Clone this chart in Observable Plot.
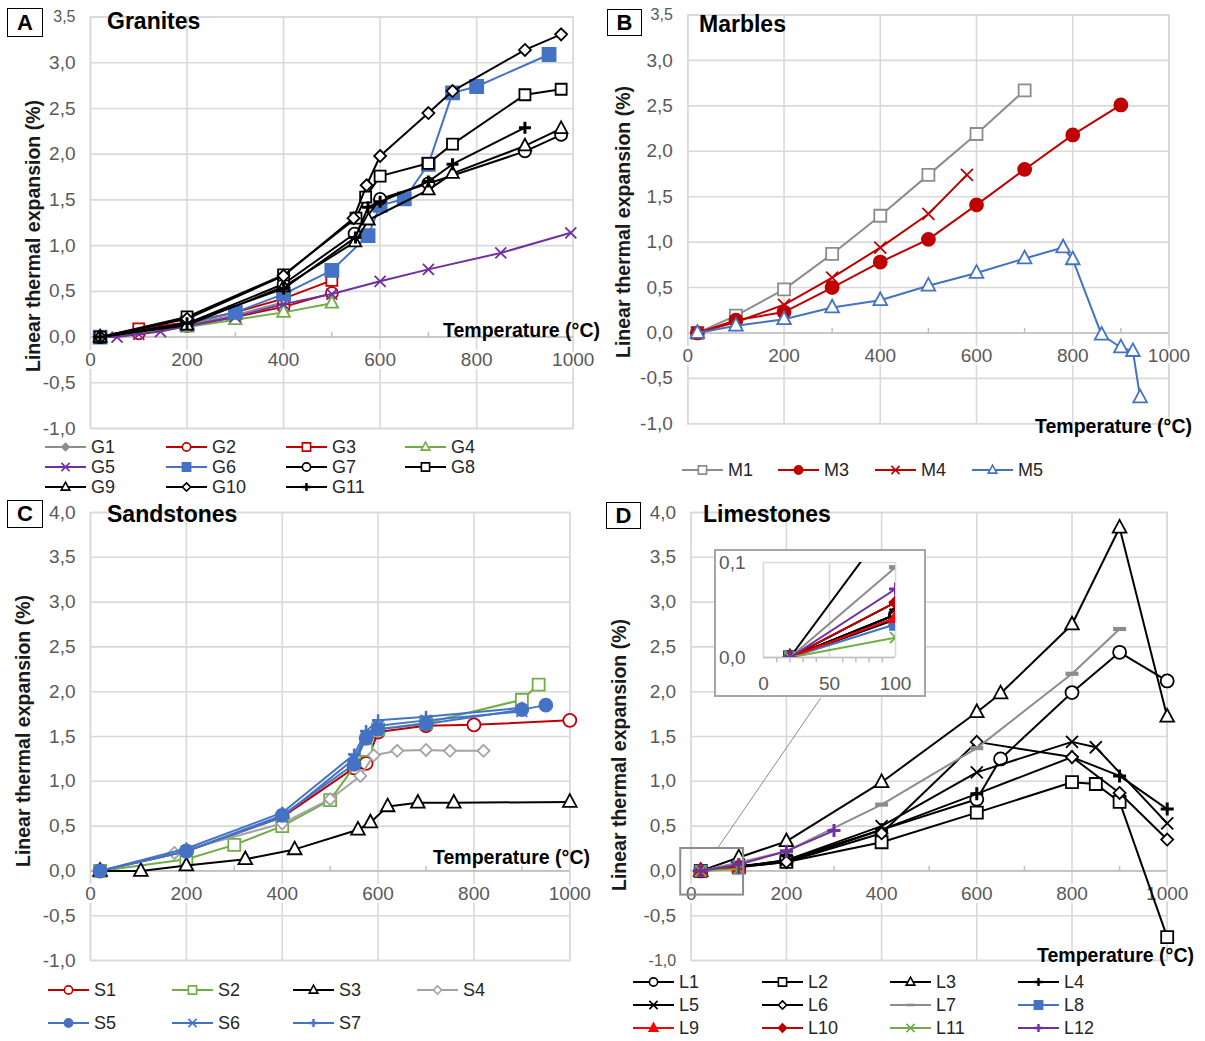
<!DOCTYPE html>
<html>
<head>
<meta charset="utf-8">
<script src="https://cdn.jsdelivr.net/npm/d3@7"></script>
<script src="https://cdn.jsdelivr.net/npm/@observablehq/plot@0.6"></script>
<style>
  html, body { margin: 0; padding: 0; background: #fff; }
  #figure { position: relative; width: 1205px; height: 1041px; overflow: hidden;
            font-family: "Liberation Sans", Arial, sans-serif; color: #000; }
  #figure > * { position: absolute; }
  .tag { border: 1.6px solid #000; box-sizing: border-box; font-weight: bold; font-size: 22px;
         display: flex; align-items: center; justify-content: center; background: #fff; }
  .title { font-weight: bold; font-size: 23px; white-space: nowrap; line-height: 1; transform: translateY(-50%); }
  .ytitle { font-weight: bold; font-size: 19.5px; white-space: nowrap; line-height: 1; color: #1a1a1a;
            transform: translate(-50%, -50%) rotate(-90deg); }
  .xtitle { font-weight: bold; font-size: 19.5px; white-space: nowrap; line-height: 1; transform: translateY(-50%); }
  .item { display: flex; align-items: center; font-size: 18px; color: #262626; white-space: nowrap;
          line-height: 1; transform: translateY(-50%); }
  .item svg { margin-right: 5px; overflow: visible; }
  .insetbox { border: 2px solid #a6a6a6; box-sizing: border-box; background: #fff; }
</style>
</head>
<body>
<div id="figure"></div>
<script>
// ---------------------------------------------------------------------------
// Temperature axis (°C)
const xTicks = [0, 200, 400, 600, 800, 1000];
const xMinor = [100, 300, 500, 700, 900];
const yTicksAB = [-1, -0.5, 0, 0.5, 1, 1.5, 2, 2.5, 3, 3.5];
const yTicksCD = [-1, -0.5, 0, 0.5, 1, 1.5, 2, 2.5, 3, 3.5, 4];

// ---------------------------------------------------------------------------
// A — Granites: [temperature °C, linear thermal expansion %]
const graniteIds = ["G1", "G2", "G3", "G4", "G5", "G6", "G7", "G8", "G9", "G10", "G11"];
const G1 = [[20, 0], [200, 0.14], [300, 0.24], [400, 0.38]];
const G2 = [[20, 0], [100, 0.04], [200, 0.12], [300, 0.22], [400, 0.33], [500, 0.48]];
const G3 = [[20, 0], [100, 0.09], [200, 0.16], [300, 0.27], [400, 0.42], [500, 0.62]];
const G4 = [[20, 0], [200, 0.11], [300, 0.19], [400, 0.27], [500, 0.37]];
const G5 = [[20, 0], [55, 0.0], [100, 0.03], [145, 0.06], [200, 0.12], [300, 0.22], [400, 0.36], [500, 0.47], [600, 0.61], [700, 0.74], [850, 0.92], [995, 1.14]];
const G6 = [[20, 0], [200, 0.15], [300, 0.27], [400, 0.47], [500, 0.73], [575, 1.11], [600, 1.44], [650, 1.51], [700, 1.89], [750, 2.67], [800, 2.74], [950, 3.09]];
const G7 = [[20, 0], [200, 0.15], [400, 0.58], [547, 1.13], [600, 1.51], [700, 1.68], [900, 2.03], [975, 2.21]];
const G8 = [[20, 0], [200, 0.22], [400, 0.68], [550, 1.3], [570, 1.53], [600, 1.76], [700, 1.9], [750, 2.11], [900, 2.65], [975, 2.71]];
const G9 = [[20, 0], [200, 0.13], [400, 0.55], [548, 1.04], [576, 1.28], [700, 1.61], [750, 1.79], [900, 2.09], [975, 2.28]];
const G10 = [[20, 0], [200, 0.2], [400, 0.67], [545, 1.3], [572, 1.66], [600, 1.98], [700, 2.45], [750, 2.69], [900, 3.14], [975, 3.31]];
const G11 = [[20, 0], [200, 0.15], [400, 0.53], [549, 1.09], [575, 1.42], [600, 1.48], [700, 1.7], [750, 1.89], [900, 2.29]];

// B — Marbles
const marbleIds = ["M1", "M3", "M4", "M5"];
const M1 = [[20, 0], [100, 0.19], [200, 0.48], [300, 0.87], [400, 1.29], [500, 1.74], [600, 2.19], [700, 2.67]];
const M3 = [[20, 0], [100, 0.14], [200, 0.23], [300, 0.5], [400, 0.78], [500, 1.03], [600, 1.41], [700, 1.8], [800, 2.18], [900, 2.51]];
const M4 = [[20, 0], [100, 0.12], [200, 0.31], [300, 0.61], [400, 0.94], [500, 1.31], [580, 1.74]];
const M5 = [[20, 0], [100, 0.08], [200, 0.15], [300, 0.28], [400, 0.36], [500, 0.52], [600, 0.66], [700, 0.82], [780, 0.94], [800, 0.81], [860, -0.02], [900, -0.16], [925, -0.2], [940, -0.71]];

// C — Sandstones
const sandstoneIds = ["S1", "S2", "S3", "S4", "S5", "S6", "S7"];
const S1 = [[20, 0], [200, 0.22], [400, 0.6], [550, 1.15], [575, 1.2], [600, 1.55], [700, 1.62], [800, 1.63], [1000, 1.68]];
const S2 = [[20, 0], [200, 0.13], [300, 0.29], [400, 0.5], [500, 0.79], [575, 1.35], [600, 1.58], [700, 1.65], [900, 1.91], [935, 2.08]];
const S3 = [[20, 0], [105, 0], [200, 0.06], [323, 0.13], [426, 0.24], [558, 0.46], [584, 0.54], [620, 0.72], [683, 0.76], [758, 0.76], [1000, 0.77]];
const S4 = [[20, 0], [175, 0.2], [400, 0.53], [500, 0.8], [563, 1.06], [591, 1.29], [640, 1.34], [700, 1.35], [750, 1.34], [820, 1.34]];
const S5 = [[20, 0], [200, 0.22], [400, 0.62], [550, 1.19], [575, 1.48], [600, 1.58], [700, 1.64], [900, 1.8], [950, 1.85]];
const S6 = [[20, 0], [200, 0.22], [400, 0.6], [550, 1.25], [575, 1.5], [600, 1.62], [700, 1.68], [900, 1.78]];
const S7 = [[20, 0], [200, 0.25], [400, 0.65], [550, 1.3], [575, 1.56], [600, 1.68], [700, 1.72], [900, 1.82]];

// D — Limestones
const limestoneIds = ["L1", "L2", "L3", "L4", "L5", "L6", "L7", "L8", "L9", "L10", "L11", "L12"];
const L1 = [[20, 0], [100, 0.045], [200, 0.12], [600, 0.8], [650, 1.25], [800, 1.99], [900, 2.44], [1000, 2.12]];
const L2 = [[20, 0], [100, 0.04], [200, 0.1], [400, 0.32], [600, 0.65], [800, 0.99], [850, 0.97], [900, 0.77], [1000, -0.74]];
const L3 = [[20, 0], [100, 0.15], [200, 0.33], [400, 0.99], [600, 1.77], [650, 1.98], [800, 2.75], [900, 3.83], [1000, 1.72]];
const L4 = [[20, 0], [100, 0.058], [200, 0.1], [400, 0.46], [600, 0.86], [800, 1.27], [900, 1.06], [1000, 0.69]];
const L5 = [[20, 0], [100, 0.045], [200, 0.12], [400, 0.5], [600, 1.1], [800, 1.44], [850, 1.38], [1000, 0.53]];
const L6 = [[20, 0], [100, 0.045], [200, 0.1], [400, 0.42], [600, 1.44], [800, 1.27], [900, 0.87], [1000, 0.35]];
const L7 = [[20, 0], [100, 0.095], [200, 0.22], [400, 0.74], [600, 1.37], [800, 2.2], [900, 2.7]];
const L8 = [[20, 0], [100, 0.035]];
const L9 = [[20, 0], [100, 0.042]];
const L10 = [[20, 0], [100, 0.058]];
const L11 = [[20, 0], [100, 0.021]];
const L12 = [[20, 0], [100, 0.072], [200, 0.22], [300, 0.45]];

// Inset of panel D (0–100 °C, 0–0.1 %) and the region it magnifies
const insetXTicks = [0, 50, 100];
const insetXMinor = [10, 20, 30, 40, 60, 70, 80, 90];
const insetYTicks = [0, 0.1];
const zoomRegion = {x: [-22, 110], y: [-0.27, 0.25]};
const zoomLeader = {x: [55, 272], y: [0.25, 1.93]};

// ---------------------------------------------------------------------------
// Colours and marker styles
const BLACK = "#000000", GRAY = "#8c8c8c", LGRAY = "#a3a3a3", RED = "#c00000", BRED = "#ff0000",
      GREEN = "#70ad47", PURPLE = "#7030a0", BLUE = "#4472c4";
const GRID = "#d9d9d9", AXIS = "#bfbfbf", TICK = "#595959";

const half = s => Math.sqrt(s / Math.PI);
const SYM = {
  circle:   {draw(c, s) { const r = half(s); c.moveTo(r, 0); c.arc(0, 0, r, 0, 2 * Math.PI); c.closePath(); }},
  square:   {draw(c, s) { const r = half(s); c.rect(-r, -r, 2 * r, 2 * r); }},
  triangle: {draw(c, s) { const r = half(s); c.moveTo(0, -1.2 * r); c.lineTo(1.05 * r, 0.75 * r); c.lineTo(-1.05 * r, 0.75 * r); c.closePath(); }},
  diamond:  {draw(c, s) { const r = half(s); c.moveTo(0, -r); c.lineTo(r, 0); c.lineTo(0, r); c.lineTo(-r, 0); c.closePath(); }},
  times:    {draw(c, s) { const r = half(s); c.moveTo(-r, -r); c.lineTo(r, r); c.moveTo(r, -r); c.lineTo(-r, r); }},
  plus:     {draw(c, s) { const r = half(s); c.moveTo(-r, 0); c.lineTo(r, 0); c.moveTo(0, -r); c.lineTo(0, r); }},
  dash:     {draw(c, s) { const r = half(s); c.rect(-r, -0.32 * r, 2 * r, 0.64 * r); }},
  tickUp:   {draw(c, s) { const r = half(s); c.moveTo(0, 0); c.lineTo(0, -r); }},
  tickDown: {draw(c, s) { const r = half(s); c.moveTo(0, 0); c.lineTo(0, r); }}
};

const graniteStyle = {
  G1:  {color: GRAY,   sym: "diamond",  fill: GRAY,    r: 4.5},
  G2:  {color: RED,    sym: "circle",   fill: "white", r: 6},
  G3:  {color: RED,    sym: "square",   fill: "white", r: 5.5},
  G4:  {color: GREEN,  sym: "triangle", fill: "white", r: 6},
  G5:  {color: PURPLE, sym: "times",    fill: "none",  r: 5.5},
  G6:  {color: BLUE,   sym: "square",   fill: BLUE,    r: 6.5},
  G7:  {color: BLACK,  sym: "circle",   fill: "white", r: 6},
  G8:  {color: BLACK,  sym: "square",   fill: "white", r: 5.5},
  G9:  {color: BLACK,  sym: "triangle", fill: "white", r: 6},
  G10: {color: BLACK,  sym: "diamond",  fill: "white", r: 6},
  G11: {color: BLACK,  sym: "plus",     fill: "none",  r: 6, sw: 3}
};
const marbleStyle = {
  M1: {color: GRAY, sym: "square",   fill: "white", r: 6},
  M3: {color: RED,  sym: "circle",   fill: RED,     r: 6.5},
  M4: {color: RED,  sym: "times",    fill: "none",  r: 6},
  M5: {color: BLUE, sym: "triangle", fill: "white", r: 6.5}
};
const sandstoneStyle = {
  S1: {color: RED,   sym: "circle",   fill: "white", r: 6.5},
  S2: {color: GREEN, sym: "square",   fill: "white", r: 6},
  S3: {color: BLACK, sym: "triangle", fill: "white", r: 6.5},
  S4: {color: LGRAY, sym: "diamond",  fill: "white", r: 6},
  S5: {color: BLUE,  sym: "circle",   fill: BLUE,    r: 6.5},
  S6: {color: BLUE,  sym: "times",    fill: "none",  r: 5.5},
  S7: {color: BLUE,  sym: "plus",     fill: "none",  r: 6, sw: 2.5}
};
const limestoneStyle = {
  L1:  {color: BLACK,  sym: "circle",   fill: "white", r: 6.5},
  L2:  {color: BLACK,  sym: "square",   fill: "white", r: 6},
  L3:  {color: BLACK,  sym: "triangle", fill: "white", r: 6.5},
  L4:  {color: BLACK,  sym: "plus",     fill: "none",  r: 6.5, sw: 3},
  L5:  {color: BLACK,  sym: "times",    fill: "none",  r: 6},
  L6:  {color: BLACK,  sym: "diamond",  fill: "white", r: 6},
  L7:  {color: GRAY,   sym: "dash",     fill: GRAY,    r: 6.5, sw: 0},
  L8:  {color: BLUE,   sym: "square",   fill: BLUE,    r: 5.5},
  L9:  {color: BRED,   sym: "triangle", fill: BRED,    r: 6},
  L10: {color: RED,    sym: "diamond",  fill: RED,     r: 6},
  L11: {color: GREEN,  sym: "times",    fill: "none",  r: 5.5},
  L12: {color: PURPLE, sym: "plus",     fill: "none",  r: 6.5, sw: 3}
};

// ---------------------------------------------------------------------------
const fig = document.getElementById("figure");
const fmt = v => (v < 0 ? "-" : "") + Math.abs(v).toFixed(1).replace(".", ",");
const FONT = "Liberation Sans, Arial, sans-serif";

function place(el, left, top) {
  el.style.left = left + "px";
  el.style.top = top + "px";
  fig.appendChild(el);
  return el;
}

function toRows(ids, table) {
  return ids.flatMap(id => table[id].map(([t, v]) => ({id, t, v})));
}

function seriesMarks(ids, rows, style, extra = {}) {
  return ids.flatMap(id => {
    const s = style[id];
    const d = rows.filter(r => r.id === id);
    return [
      Plot.line(d, {x: "t", y: "v", stroke: s.color, strokeWidth: 2, ...extra}),
      Plot.dot(d, {x: "t", y: "v", symbol: SYM[s.sym], r: s.r, fill: s.fill,
                   stroke: s.sw === 0 ? "none" : s.color, strokeWidth: s.sw ?? 1.8, ...extra})
    ];
  });
}

function panel({ids, table, style, yTicks, box, margin, smallTop = false, smallBottom = false, extras = []}) {
  const rows = toRows(ids, table);
  const big = yTicks.filter((t, i) => !(smallTop && i === yTicks.length - 1) && !(smallBottom && i === 0));
  const small = yTicks.filter((t, i) => (smallTop && i === yTicks.length - 1) || (smallBottom && i === 0));
  const svg = Plot.plot({
    width: box.w, height: box.h,
    marginTop: margin.top, marginRight: margin.right, marginBottom: margin.bottom, marginLeft: margin.left,
    style: {fontFamily: FONT, background: "transparent", overflow: "visible"},
    x: {domain: [0, 1000], axis: null},
    y: {domain: [yTicks[0], yTicks[yTicks.length - 1]], axis: null},
    marks: [
      Plot.ruleY(yTicks, {stroke: GRID, strokeWidth: 1.6}),
      Plot.ruleX(xTicks, {stroke: GRID, strokeWidth: 1.6}),
      Plot.frame({stroke: GRID, strokeWidth: 1.6}),
      Plot.ruleY([0], {stroke: AXIS, strokeWidth: 1.6}),
      Plot.dot(xMinor, {x: d => d, y: () => 0, symbol: SYM.tickUp, r: 5, stroke: AXIS, strokeWidth: 1.5}),
      Plot.text(xTicks, {x: d => d, y: () => 0, dy: 23, text: d => String(d), fontSize: 19, fill: TICK,
                         stroke: "white", strokeWidth: 6}),
      Plot.text(big, {y: d => d, frameAnchor: "left", dx: -15, textAnchor: "end", text: fmt, fontSize: 19, fill: TICK}),
      Plot.text(small, {y: d => d, frameAnchor: "left", dx: -15, textAnchor: "end", text: fmt, fontSize: 16, fill: TICK}),
      ...seriesMarks(ids, rows, style),
      ...extras
    ]
  });
  place(svg, box.x, box.y);
  return rows;
}

function tag(letter, x, y, w, h) {
  const d = document.createElement("div");
  d.className = "tag"; d.textContent = letter;
  d.style.width = w + "px"; d.style.height = h + "px";
  place(d, x, y);
}
function text(cls, str, x, y) {
  const d = document.createElement("div");
  d.className = cls; d.textContent = str;
  place(d, x, y);
}

function legend(ids, style, cols, rowYs) {
  ids.forEach((id, i) => {
    const s = style[id];
    const w = 41, h = 16, lr = Math.min(s.r, 5) * 0.82;
    const path = d3.symbol(SYM[s.sym], Math.PI * lr * lr)();
    const d = document.createElement("div");
    d.className = "item";
    d.innerHTML =
      `<svg width="${w}" height="${h}">` +
      `<line x1="0" x2="${w}" y1="${h / 2}" y2="${h / 2}" stroke="${s.color}" stroke-width="2"/>` +
      `<path transform="translate(${w / 2},${h / 2})" d="${path}" fill="${s.fill}" ` +
      `stroke="${s.sw === 0 ? "none" : s.color}" stroke-width="${Math.min(s.sw ?? 1.6, 2.4)}"/></svg>` +
      `<span>${id}</span>`;
    place(d, cols[i % cols.length], rowYs[Math.floor(i / cols.length)]);
  });
}

// ---------------------------------------------------------------------------
// Panel A
panel({
  ids: graniteIds, table: {G1, G2, G3, G4, G5, G6, G7, G8, G9, G10, G11}, style: graniteStyle,
  yTicks: yTicksAB, box: {x: 0, y: 0, w: 600, h: 440},
  margin: {top: 16.5, right: 27.3, bottom: 12, left: 90}, smallTop: true
});
// Panel B
panel({
  ids: marbleIds, table: {M1, M3, M4, M5}, style: marbleStyle,
  yTicks: yTicksAB, box: {x: 600, y: 0, w: 605, h: 440},
  margin: {top: 14.5, right: 36.5, bottom: 16.7, left: 87.3}, smallTop: true
});
// Panel C
panel({
  ids: sandstoneIds, table: {S1, S2, S3, S4, S5, S6, S7}, style: sandstoneStyle,
  yTicks: yTicksCD, box: {x: 0, y: 500, w: 600, h: 470},
  margin: {top: 12, right: 30.7, bottom: 10, left: 90}
});
// Panel D, with the outline of the magnified region and its leader line
const limestoneTable = {L1, L2, L3, L4, L5, L6, L7, L8, L9, L10, L11, L12};
panel({
  ids: limestoneIds, table: limestoneTable, style: limestoneStyle,
  yTicks: yTicksCD, box: {x: 600, y: 500, w: 605, h: 470},
  margin: {top: 12, right: 38.3, bottom: 10, left: 90.7}, smallBottom: true,
  extras: [
    Plot.rect([zoomRegion], {x1: d => d.x[0], x2: d => d.x[1], y1: d => d.y[0], y2: d => d.y[1],
                             fill: "none", stroke: "#8c8c8c", strokeWidth: 2}),
    Plot.link([zoomLeader], {x1: d => d.x[0], x2: d => d.x[1], y1: d => d.y[0], y2: d => d.y[1],
                             stroke: "#8c8c8c", strokeWidth: 1})
  ]
});

// Inset: first heating step of the limestones
const insetBox = document.createElement("div");
insetBox.className = "insetbox";
insetBox.style.width = "212px"; insetBox.style.height = "148px";
place(insetBox, 714, 549);
const insetRows = toRows(limestoneIds, limestoneTable);
const inset = Plot.plot({
  width: 212, height: 148,
  marginTop: 13, marginRight: 31, marginBottom: 40, marginLeft: 49,
  style: {fontFamily: FONT, background: "transparent", overflow: "visible"},
  x: {domain: [0, 100], axis: null},
  y: {domain: [0, 0.1], axis: null},
  marks: [
    Plot.ruleX(insetXTicks, {stroke: GRID, strokeWidth: 1.6}),
    Plot.ruleY(insetYTicks, {stroke: GRID, strokeWidth: 1.6}),
    Plot.ruleY([0], {stroke: AXIS, strokeWidth: 1.6}),
    Plot.dot(insetXMinor, {x: d => d, y: () => 0, symbol: SYM.tickDown, r: 5, stroke: AXIS, strokeWidth: 1.5}),
    Plot.text(insetXTicks, {x: d => d, y: () => 0, dy: 26, text: d => String(d), fontSize: 19, fill: TICK}),
    Plot.text(insetYTicks, {y: d => d, frameAnchor: "left", dx: -18, textAnchor: "end", text: fmt, fontSize: 19, fill: TICK}),
    ...seriesMarks(limestoneIds, insetRows, limestoneStyle, {clip: true})
  ]
});
place(inset, 714, 549);

// ---------------------------------------------------------------------------
// Panel letters, titles and axis titles
tag("A", 7, 8, 36, 29);
tag("B", 607, 9, 35, 27);
tag("C", 7, 500, 36, 28);
tag("D", 606, 502, 35, 27);

text("title", "Granites", 107, 21);
text("title", "Marbles", 699, 24);
text("title", "Sandstones", 107, 514);
text("title", "Limestones", 703, 514);

text("ytitle", "Linear thermal expansion (%)", 33.5, 236);
text("ytitle", "Linear thermal expansion (%)", 624, 222);
text("ytitle", "Linear thermal expansion (%)", 24, 731);
text("ytitle", "Linear thermal expansion (%)", 620, 755);

text("xtitle", "Temperature (°C)", 443, 331);
text("xtitle", "Temperature (°C)", 1035, 427);
text("xtitle", "Temperature (°C)", 433, 858);
text("xtitle", "Temperature (°C)", 1037, 956);

// Legends
legend(graniteIds, graniteStyle, [45, 166, 286, 405], [446.7, 466.7, 486.7]);
legend(marbleIds, marbleStyle, [682, 778, 875, 972], [470]);
legend(sandstoneIds, sandstoneStyle, [48, 172, 293, 417], [990, 1023]);
legend(limestoneIds, limestoneStyle, [633, 762, 890, 1018], [981.7, 1005, 1028.3]);
</script>
</body>
</html>
